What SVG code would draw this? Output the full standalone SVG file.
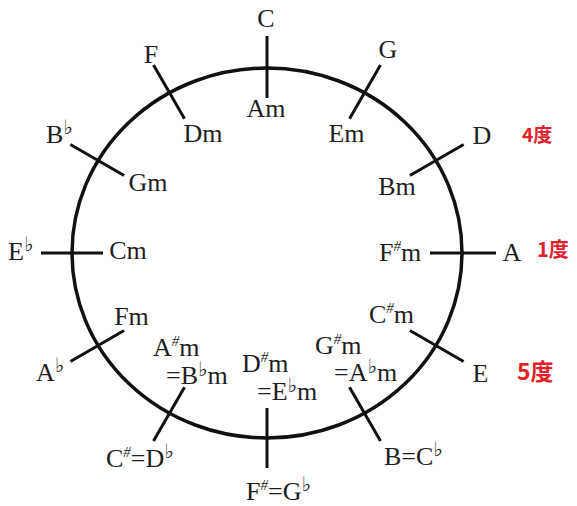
<svg xmlns="http://www.w3.org/2000/svg" width="577" height="506" viewBox="0 0 577 506">
<style>
.t{font-family:"Liberation Serif","Times New Roman",serif;font-size:26px;fill:#1e1e1e}
.m{text-anchor:middle}
.s{font-size:15px;font-style:italic}
.f{font-size:20px;font-family:"DejaVu Sans",sans-serif}
.r{font-family:"Noto Sans CJK JP","Noto Sans",sans-serif;font-weight:bold;fill:#e0232b}
.tick{stroke:#111;stroke-width:3;stroke-linecap:butt}
</style>
<rect width="577" height="506" fill="#fff"/>
<g id="circle">
<ellipse cx="267" cy="253" rx="195" ry="185" fill="none" stroke="#111" stroke-width="3.5"/>
</g>
<g id="connectors">
<line class="tick" x1="267" y1="36" x2="267" y2="98"/>
<line class="tick" x1="380.5" y1="65.1" x2="349.5" y2="118.8"/>
<line class="tick" x1="463.6" y1="144.5" x2="409.9" y2="175.5"/>
<line class="tick" x1="496" y1="253" x2="430" y2="253"/>
<line class="tick" x1="463.6" y1="361.5" x2="409.9" y2="330.5"/>
<line class="tick" x1="380.5" y1="440.9" x2="349.5" y2="387.2"/>
<line class="tick" x1="267" y1="468" x2="267" y2="408"/>
<line class="tick" x1="153.5" y1="440.9" x2="184.5" y2="387.2"/>
<line class="tick" x1="70.4" y1="361.5" x2="124.1" y2="330.5"/>
<line class="tick" x1="41" y1="253" x2="103" y2="253"/>
<line class="tick" x1="70.4" y1="144.5" x2="124.1" y2="175.5"/>
<line class="tick" x1="153.5" y1="65.1" x2="184.5" y2="118.8"/>
</g>
<g id="n-C"><text class="t m" x="266" y="27">C</text><text class="t m" x="266" y="117">Am</text></g>
<g id="n-G"><text class="t m" x="388" y="58">G</text><text class="t m" x="346.5" y="142">Em</text></g>
<g id="n-D"><text class="t m" x="482" y="144">D</text><text class="t m" x="397" y="195">Bm</text><text class="r" x="522" y="142" font-size="19">4度</text></g>
<g id="n-A"><text class="t m" x="512" y="261">A</text><text class="t" x="379" y="261">F<tspan class="s" dy="-10">#</tspan><tspan dy="10">m</tspan></text><text class="r" x="537" y="257" font-size="20">1度</text></g>
<g id="n-E"><text class="t m" x="480.5" y="382">E</text><text class="t" x="369" y="323">C<tspan class="s" dy="-10">#</tspan><tspan dy="10">m</tspan></text><text class="r" x="517" y="380" font-size="23">5度</text></g>
<g id="n-B"><text class="t" x="384" y="465">B=C<tspan class="f" dy="-9">♭</tspan></text><text class="t" x="315" y="354">G<tspan class="s" dy="-10">#</tspan><tspan dy="10">m</tspan></text><text class="t" x="334" y="381">=A<tspan class="f" dy="-8">♭</tspan><tspan dy="8">m</tspan></text></g>
<g id="n-Fs"><text class="t" x="246" y="500">F<tspan class="s" dy="-10">#</tspan><tspan dy="10">=G</tspan><tspan class="f" dy="-9">♭</tspan></text><text class="t" x="242" y="372">D<tspan class="s" dy="-10">#</tspan><tspan dy="10">m</tspan></text><text class="t" x="257" y="400">=E<tspan class="f" dy="-8">♭</tspan><tspan dy="8">m</tspan></text></g>
<g id="n-Cs"><text class="t" x="106" y="467">C<tspan class="s" dy="-10">#</tspan><tspan dy="10">=D</tspan><tspan class="f" dy="-9">♭</tspan></text><text class="t" x="153" y="356">A<tspan class="s" dy="-10">#</tspan><tspan dy="10">m</tspan></text><text class="t" x="166" y="384">=B<tspan class="f" dy="-8">♭</tspan><tspan dy="8">m</tspan></text></g>
<g id="n-Ab"><text class="t" x="36" y="381">A<tspan class="f" dy="-9">♭</tspan></text><text class="t m" x="131.5" y="325">Fm</text></g>
<g id="n-Eb"><text class="t" x="8" y="260">E<tspan class="f" dy="-9">♭</tspan></text><text class="t m" x="128" y="259">Cm</text></g>
<g id="n-Bb"><text class="t" x="46" y="143">B<tspan class="f" dy="-9">♭</tspan></text><text class="t m" x="148" y="191">Gm</text></g>
<g id="n-F"><text class="t m" x="151" y="63">F</text><text class="t m" x="203" y="142">Dm</text></g>
</svg>
